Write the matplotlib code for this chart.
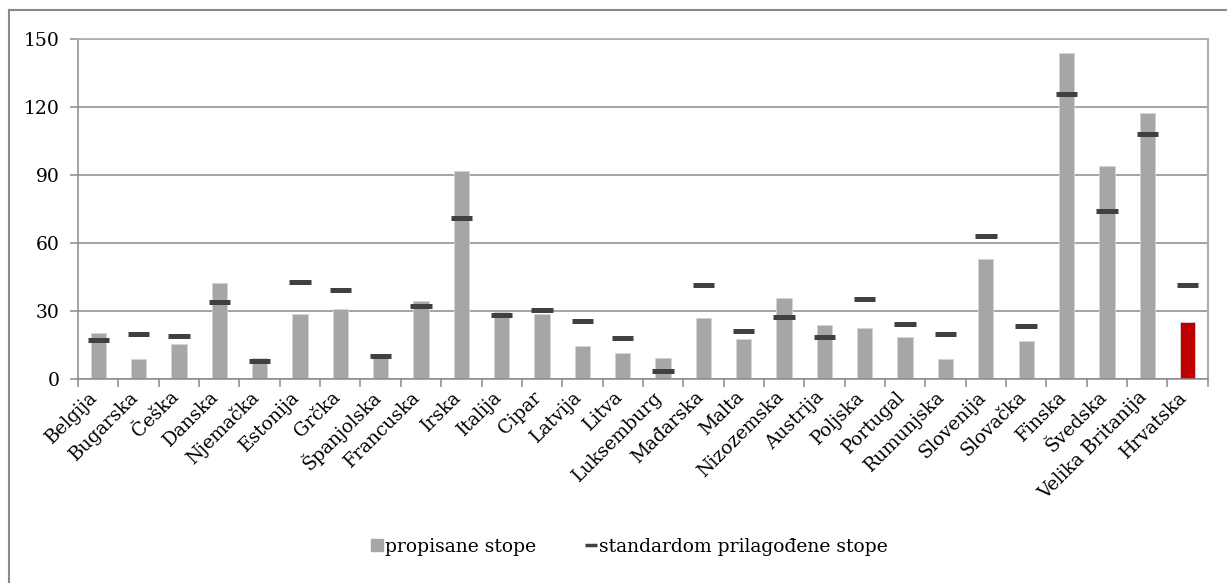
import matplotlib
matplotlib.use('Agg')
import matplotlib.pyplot as plt
import matplotlib.transforms as mtransforms
from matplotlib.lines import Line2D
import numpy as np

# countries, stated rates and standard-adjusted rates
countries = ['Belgija', 'Bugarska', 'Češka', 'Danska', 'Njemačka', 'Estonija',
             'Grčka', 'Španjolska', 'Francuska', 'Irska', 'Italija', 'Cipar',
             'Latvija', 'Litva', 'Luksemburg', 'Mađarska', 'Malta', 'Nizozemska',
             'Austrija', 'Poljska', 'Portugal', 'Rumunjska', 'Slovenija',
             'Slovačka', 'Finska', 'Švedska', 'Velika Britanija', 'Hrvatska']
propisane = [20.2, 9.0, 15.3, 42.2, 9.1, 28.7, 31.0, 9.5, 34.4, 91.7, 29.5,
             28.5, 14.7, 11.5, 9.1, 27.0, 17.6, 35.7, 23.8, 22.6, 18.4, 8.7,
             52.8, 16.9, 143.7, 94.1, 117.3, 25.1]
prilagodene = [17.1, 19.7, 18.8, 33.8, 7.8, 42.6, 39.1, 10.0, 32.1, 70.9, 28.1,
               30.3, 25.4, 17.9, 3.4, 41.3, 21.0, 27.2, 18.4, 35.1, 24.1, 19.7,
               62.9, 23.2, 125.6, 74.0, 107.9, 41.3]
y_ticks = [0, 30, 60, 90, 120, 150]

plt.rcParams['font.family'] = ['DejaVu Serif']
FS = 13.5

fig = plt.figure(figsize=(12.27, 5.83), dpi=100)
ax = fig.add_axes([0.0636, 0.3499, 0.9207, 0.5837])

x = np.arange(len(countries))
colors = ['#a6a6a6'] * (len(countries) - 1) + ['#c00000']
ax.bar(x, propisane, width=0.38, color=colors, edgecolor='#d4d4d4',
       linewidth=0.6, zorder=2)
ax.hlines(prilagodene, x - 0.265, x + 0.265, color='#404040', linewidth=3.6,
          zorder=3)

ax.set_xlim(-0.5, len(countries) - 0.5)
ax.set_ylim(0, 150)
ax.set_yticks(y_ticks)
ax.set_yticklabels([str(t) for t in y_ticks], fontsize=FS)
ax.yaxis.grid(True, color='#8a8a8a', linewidth=1.1, zorder=0)
ax.set_axisbelow(True)

# labels sit at bar centres, tick marks between categories
ax.set_xticks(x)
ax.set_xticklabels(countries, rotation=45, ha='right', va='center',
                   rotation_mode='anchor', fontsize=FS)
ax.set_xticks(np.arange(-0.5, len(countries)), minor=True)
ax.tick_params(axis='x', which='major', length=0, pad=11)
ax.tick_params(axis='x', which='minor', length=6, color='#8a8a8a', width=1.1,
               direction='out')
ax.tick_params(axis='y', length=6, color='#8a8a8a', width=1.1, pad=7)
shift = mtransforms.ScaledTranslation(-3 / 100, 0, fig.dpi_scale_trans)
for lbl in ax.get_xticklabels():
    lbl.set_transform(lbl.get_transform() + shift)

ax.spines['left'].set_color('#8a8a8a')
ax.spines['left'].set_linewidth(1.1)
ax.spines['bottom'].set_color('#8a8a8a')
ax.spines['bottom'].set_linewidth(1.1)
ax.spines['right'].set_color('#b0b0b0')
ax.spines['right'].set_linewidth(1.6)
ax.spines['top'].set_color('#b0b0b0')
ax.spines['top'].set_linewidth(1.3)

handles = [Line2D([], [], marker='s', color='#a6a6a6', linestyle='none',
                  markersize=9),
           Line2D([], [], marker='_', color='#404040', linestyle='none',
                  markersize=8, markeredgewidth=2.5)]
fig.legend(handles, ['propisane stope', 'standardom prilagođene stope'],
           loc='center', bbox_to_anchor=(0.513, 0.062), ncol=2, frameon=False,
           fontsize=FS, handlelength=0.6, handletextpad=0.15,
           columnspacing=2.6)

# outer chart frame (top and left edges)
fig.add_artist(Line2D([9 / 1227, 1], [1 - 10 / 583, 1 - 10 / 583],
                      transform=fig.transFigure, color='#8a8a8a', linewidth=1.5))
fig.add_artist(Line2D([9 / 1227, 9 / 1227], [0, 1 - 10 / 583],
                      transform=fig.transFigure, color='#8a8a8a', linewidth=1.5))

fig.savefig('out.png', dpi=100, facecolor='white')
